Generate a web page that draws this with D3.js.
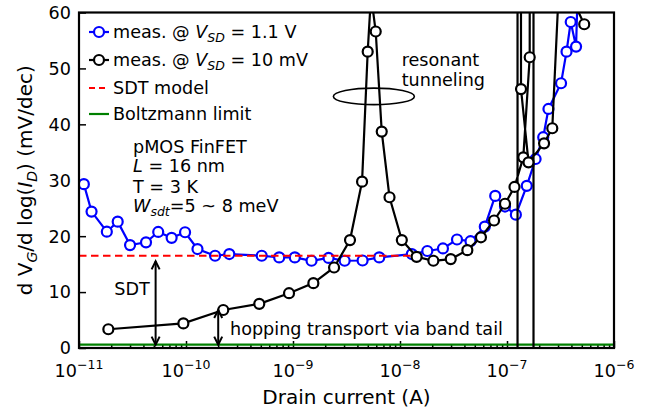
<!DOCTYPE html>
<html><head><meta charset="utf-8">
<script src="https://cdn.jsdelivr.net/npm/d3@7"></script>
<style>
html,body{margin:0;padding:0;background:#fff;}
svg{display:block;font-family:"DejaVu Sans",sans-serif;}
</style></head><body>
<svg id="chart" width="655" height="416"></svg>
<script>
// ---- data ----
const blueCurrent = [1.11e-11,1.31e-11,1.82e-11,2.30e-11,3.0e-11,4.23e-11,5.5e-11,7.34e-11,9.8e-11,1.28e-10,1.87e-10,2.54e-10,5.1e-10,7.43e-10,1.04e-9,1.49e-9,2.15e-9,3.04e-9,4.47e-9,6.4e-9,1.29e-8,1.80e-8,2.52e-8,3.41e-8,4.56e-8,6.2e-8,7.76e-8,9.58e-8,1.21e-7,1.53e-7,1.85e-7,2.18e-7,2.44e-7,3.2e-7,3.6e-7,3.94e-7,4.42e-7,4.76e-7];
const blueSS = [29.3,24.4,20.8,22.6,18.4,18.9,20.75,19.7,20.7,17.7,16.5,16.8,16.5,16.2,16.2,15.6,16.1,15.6,15.65,16.2,16.8,17.35,17.8,19.4,19.1,21.7,27.2,25.3,23.85,29.0,33.8,37.7,42.75,47.35,53.0,58.3,53.9,75];
const blackCurrent = [1.88e-11,9.45e-11,2.23e-10,4.84e-10,9.18e-10,1.55e-9,2.42e-9,3.41e-9,4.42e-9,4.99e-9,5.36e-9,5.93e-9,6.75e-9,7.98e-9,1.04e-8,1.43e-8,2.05e-8,2.98e-8,4.26e-8,5.71e-8,7.57e-8,9.58e-8,1.175e-7,1.42e-7,1.63e-7,1.765e-7,1.773e-7,1.257e-7,1.252e-7,1.352e-7,1.589e-7,2.22e-7,2.65e-7,3.10e-7,5.27e-7];
const blackSS = [3.35,4.4,6.8,7.9,9.8,11.6,14.4,19.3,29.75,53.0,63.1,56.6,38.7,26.96,19.3,16.3,15.6,15.9,17.5,19.8,22.8,25.8,28.8,34.1,52.0,2000,-2000,-2000,2000,46.3,33.2,36.6,39.3,67.2,57.9];
const sdtCurrent = [1e-11, 1.38e-8];
const sdtSS = [16.5, 16.5];
const boltzCurrent = [1e-11, 1e-6];
const boltzSS = [0.6, 0.6];
const xTickExponents = [-11,-10,-9,-8,-7,-6];
const yTicks = [0,10,20,30,40,50,60];
const legendLabels = ["meas. @ ", "SDT model", "Boltzmann limit"];

// ---- layout ----
const m = {left:79, right:614, top:12.5, bottom:348};
const svg = d3.select("#chart");
const x = d3.scaleLog().domain([1e-11,1e-6]).range([m.left, m.right]);
const y = d3.scaleLinear().domain([0,60]).range([m.bottom, m.top]);
const FS = 17.6;
const R = 5;

svg.append("defs").append("clipPath").attr("id","clip")
  .append("rect").attr("x",m.left).attr("y",m.top)
  .attr("width",m.right-m.left).attr("height",m.bottom-m.top);

// axes ticks (inward)
const majors = xTickExponents.map(e=>Math.pow(10,e));
const minors = [];
for (let e=-11;e<-6;e++) for (let k=2;k<=9;k++) minors.push(k*Math.pow(10,e));

const gxMinor = svg.append("g").attr("transform",`translate(0,${m.bottom})`)
  .call(d3.axisBottom(x).tickValues(minors).tickSize(-4).tickFormat(""));
const gx = svg.append("g").attr("transform",`translate(0,${m.bottom})`)
  .call(d3.axisBottom(x).tickValues(majors).tickSize(-7).tickFormat(""));
const gy = svg.append("g").attr("transform",`translate(${m.left},0)`)
  .call(d3.axisLeft(y).tickValues(yTicks).tickSize(-7).tickFormat(""));
[gxMinor,gx,gy].forEach(g=>{
  g.select(".domain").remove();
  g.selectAll(".tick line").attr("stroke","#000").attr("stroke-width",1.5);
});

// x tick labels
xTickExponents.forEach(e=>{
  const t = svg.append("text").attr("x",x(Math.pow(10,e))).attr("y",377)
    .attr("text-anchor","middle").attr("font-size",FS).attr("fill","#000");
  t.append("tspan").text("10");
  t.append("tspan").attr("dy",-8).attr("font-size",12.5).text("\u2212"+Math.abs(e));
});
// y tick labels
yTicks.forEach(v=>{
  svg.append("text").attr("x",71).attr("y",y(v)).attr("dy","0.36em")
    .attr("text-anchor","end").attr("font-size",FS).text(v);
});

// axis titles
svg.append("text").attr("x",(m.left+m.right)/2).attr("y",404)
  .attr("text-anchor","middle").attr("font-size",20).text("Drain current (A)");
const yl = svg.append("text").attr("transform",`translate(32,${(m.top+m.bottom)/2}) rotate(-90)`)
  .attr("text-anchor","middle").attr("font-size",20);
yl.append("tspan").text("d V");
yl.append("tspan").attr("font-size",14).attr("font-style","italic").attr("dy",5).text("G");
yl.append("tspan").attr("dy",-5).text("/d log(");
yl.append("tspan").attr("font-style","italic").text("I");
yl.append("tspan").attr("font-size",14).attr("font-style","italic").attr("dy",5).text("D");
yl.append("tspan").attr("dy",-5).text(") (mV/dec)");

// data
const plot = svg.append("g").attr("clip-path","url(#clip)");
const line = d3.line().x(d=>x(d[0])).y(d=>y(d[1]));
const zip = (a,b)=>a.map((v,i)=>[v,b[i]]);

plot.append("path").datum(zip(boltzCurrent,boltzSS)).attr("d",line)
  .attr("fill","none").attr("stroke","#008000").attr("stroke-width",2.4);

function series(I,S,color){
  const pts = zip(I,S);
  plot.append("path").datum(pts).attr("d",line)
    .attr("fill","none").attr("stroke",color).attr("stroke-width",2.2);
  plot.selectAll(null).data(pts.filter(p=>p[1]>-10 && p[1]<100)).enter().append("circle")
    .attr("cx",d=>x(d[0])).attr("cy",d=>y(d[1])).attr("r",R)
    .attr("fill","#fff").attr("stroke",color).attr("stroke-width",2.2);
}
series(blueCurrent,blueSS,"#0000ff");
plot.append("path").datum(zip(sdtCurrent,sdtSS)).attr("d",line)
  .attr("fill","none").attr("stroke","#ff0000").attr("stroke-width",2.2).attr("stroke-dasharray","7.5,4.5");
series(blackCurrent,blackSS,"#000");

// frame
svg.append("rect").attr("x",m.left).attr("y",m.top)
  .attr("width",m.right-m.left).attr("height",m.bottom-m.top)
  .attr("fill","none").attr("stroke","#000").attr("stroke-width",2.2);

// legend
const lgX0=89, lgX1=109, lgT=113, rows=[32,60,88,114];
function legLine(yy,color,dash,marker){
  svg.append("line").attr("x1",lgX0).attr("x2",lgX1).attr("y1",yy).attr("y2",yy)
    .attr("stroke",color).attr("stroke-width",2.2).attr("stroke-dasharray",dash||null);
  if(marker) svg.append("circle").attr("cx",(lgX0+lgX1)/2).attr("cy",yy).attr("r",R)
    .attr("fill","#fff").attr("stroke",color).attr("stroke-width",2.2);
}
legLine(rows[0],"#0000ff",null,true);
legLine(rows[1],"#000",null,true);
legLine(rows[2],"#ff0000","6,4",false);
legLine(rows[3],"#008000",null,false);
function vsdText(yy,val){
  const t=svg.append("text").attr("x",lgT).attr("y",yy).attr("dy","0.36em").attr("font-size",FS);
  t.append("tspan").text(legendLabels[0]);
  t.append("tspan").attr("font-style","italic").text("V");
  t.append("tspan").attr("font-style","italic").attr("font-size",12.5).attr("dy",4).text("SD");
  t.append("tspan").attr("dy",-4).text(" = "+val);
}
vsdText(rows[0],"1.1 V");
vsdText(rows[1],"10 mV");
svg.append("text").attr("x",lgT).attr("y",rows[2]).attr("dy","0.36em").attr("font-size",FS).text(legendLabels[1]);
svg.append("text").attr("x",lgT).attr("y",rows[3]).attr("dy","0.36em").attr("font-size",FS).text(legendLabels[2]);

// device text block
const tb = 133;
svg.append("text").attr("x",tb).attr("y",153).attr("font-size",FS).text("pMOS FinFET");
const tL = svg.append("text").attr("x",tb).attr("y",171.5).attr("font-size",FS);
tL.append("tspan").attr("font-style","italic").text("L");
tL.append("tspan").text(" = 16 nm");
svg.append("text").attr("x",tb).attr("y",193.3).attr("font-size",FS).text("T = 3 K");
const tW = svg.append("text").attr("x",tb).attr("y",212.3).attr("font-size",FS);
tW.append("tspan").attr("font-style","italic").text("W");
tW.append("tspan").attr("font-style","italic").attr("font-size",12.5).attr("dy",4).text("sdt");
tW.append("tspan").attr("dy",-4).text("=5 ~ 8 meV");

// resonant tunneling annotation
svg.append("text").attr("x",401.7).attr("y",66).attr("font-size",FS).text("resonant");
svg.append("text").attr("x",401.7).attr("y",85.5).attr("font-size",FS).text("tunneling");
svg.append("ellipse").attr("cx",x(5.7e-9)).attr("cy",y(45)).attr("rx",40.5).attr("ry",8.3)
  .attr("fill","none").attr("stroke","#000").attr("stroke-width",1.6);

// arrows
function dblArrow(I,v0,v1){
  const xx=x(I), y0=y(v0), y1=y(v1);
  const g=svg.append("g").attr("stroke","#000").attr("stroke-width",2).attr("fill","none");
  g.append("line").attr("x1",xx).attr("x2",xx).attr("y1",y0).attr("y2",y1);
  g.append("path").attr("d",`M${xx-4},${y1+8}L${xx},${y1}L${xx+4},${y1+8}`);
  g.append("path").attr("d",`M${xx-4},${y0-8}L${xx},${y0}L${xx+4},${y0-8}`);
}
dblArrow(5.2e-11,0.6,15.5);
dblArrow(2e-10,0.6,6.8);
svg.append("text").attr("x",114.3).attr("y",295).attr("font-size",FS).text("SDT");
svg.append("text").attr("x",230).attr("y",335).attr("font-size",FS).text("hopping transport via band tail");
</script>
</body></html>
